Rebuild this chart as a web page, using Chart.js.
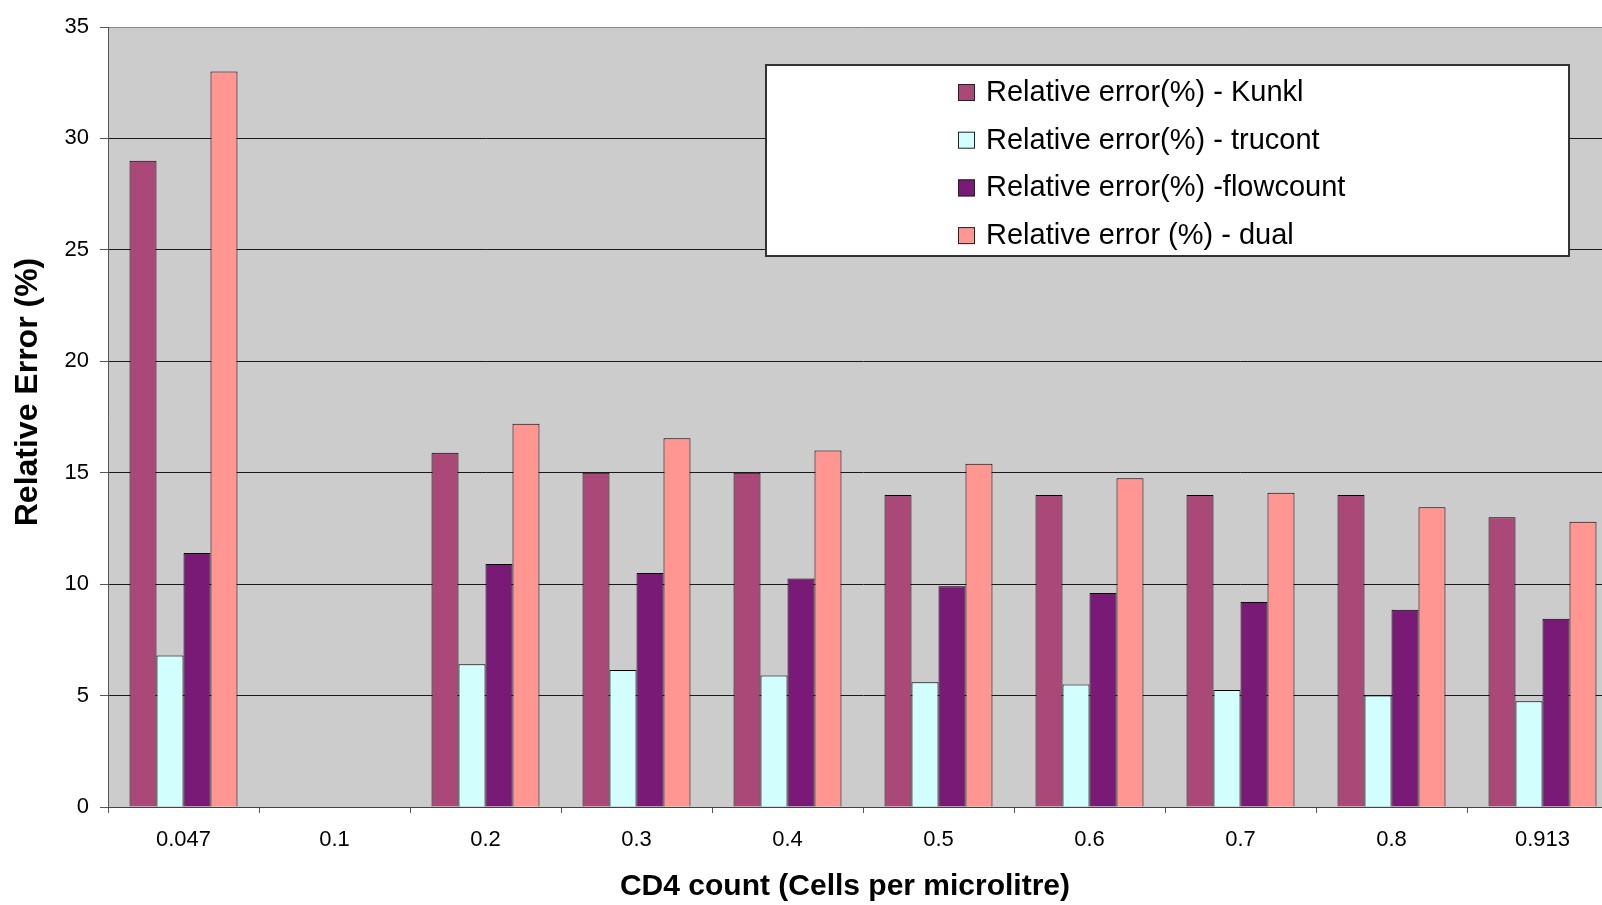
<!DOCTYPE html>
<html>
<head>
<meta charset="utf-8">
<title>Relative error by CD4 count</title>
<script src="https://cdn.jsdelivr.net/npm/chart.js@4"></script>
<style>
  body { margin: 0; background: #ffffff; overflow: hidden; }
</style>
</head>
<body>
<canvas id="myChart" width="1640" height="905"></canvas>
<script>
    const labels = ['0.047', '0.1', '0.2', '0.3', '0.4', '0.5', '0.6', '0.7', '0.8', '0.913'];

    const kunklValues     = [29,   null, 15.9, 15,   15,    14,   14,   14,   14,   13];
    const trucontValues   = [6.8,  null, 6.4,  6.15, 5.9,   5.6,  5.5,  5.25, 5.0,  4.75];
    const flowcountValues = [11.4, null, 10.9, 10.5, 10.25, 9.9,  9.6,  9.2,  8.85, 8.45];
    const dualValues      = [33,   null, 17.2, 16.55, 16.0, 15.4, 14.75, 14.1, 13.45, 12.8];

    const yTicks = [0, 5, 10, 15, 20, 25, 30, 35];

    const xTitle = 'CD4 count (Cells per microlitre)';
    const yTitle = 'Relative Error (%)';

    const CHART_COLORS = {
      plum: '#AA4977',
      paleCyan: '#D2FEFE',
      purple: '#7A1A77',
      salmon: '#FF9692'
    };

    const FONT = '"Liberation Sans", Arial, sans-serif';

    const data = {
      labels: labels,
      datasets: [
        { label: 'Relative error(%) - Kunkl', data: kunklValues, backgroundColor: CHART_COLORS.plum },
        { label: 'Relative error(%) - trucont', data: trucontValues, backgroundColor: CHART_COLORS.paleCyan },
        { label: 'Relative error(%) -flowcount', data: flowcountValues, backgroundColor: CHART_COLORS.purple },
        { label: 'Relative error (%) - dual', data: dualValues, backgroundColor: CHART_COLORS.salmon }
      ]
    };
    data.datasets.forEach(function (ds) {
      ds.borderColor = '#000000';
      ds.borderWidth = 1;
      ds.categoryPercentage = 0.715;
      ds.barPercentage = 1.0;
    });

    // grey plot area like the old excel chart
    const plotBackground = {
      id: 'plotBackground',
      beforeDraw(chart) {
        const a = chart.chartArea;
        const ctx = chart.ctx;
        ctx.save();
        ctx.fillStyle = '#cccccc';
        ctx.fillRect(a.left, a.top, a.right - a.left, a.bottom - a.top);
        ctx.restore();
      }
    };

    // axis titles - excel put them a bit off the plot centre
    const axisTitles = {
      id: 'axisTitles',
      afterDraw(chart) {
        const ctx = chart.ctx;
        ctx.save();
        ctx.fillStyle = '#000000';
        ctx.textAlign = 'center';
        ctx.textBaseline = 'middle';
        ctx.font = 'bold 30px ' + FONT;
        ctx.fillText(xTitle, 845, 887);
        ctx.translate(28, 392);
        ctx.rotate(-Math.PI / 2);
        ctx.font = 'bold 32px ' + FONT;
        ctx.fillText(yTitle, 0, 0);
        ctx.restore();
      }
    };

    // boxed legend sitting inside the plot area
    const boxLegend = {
      id: 'boxLegend',
      afterDraw(chart) {
        const ctx = chart.ctx;
        const x0 = 766, y0 = 65, w = 803, h = 191;
        ctx.save();
        ctx.fillStyle = '#ffffff';
        ctx.fillRect(x0, y0, w, h);
        ctx.lineWidth = 2;
        ctx.strokeStyle = '#333333';
        ctx.strokeRect(x0, y0, w, h);
        ctx.font = '29px ' + FONT;
        ctx.textBaseline = 'middle';
        chart.data.datasets.forEach(function (ds, i) {
          const cy = 92 + i * 47.7;
          ctx.fillStyle = ds.backgroundColor;
          ctx.fillRect(958, cy - 8, 17, 17);
          ctx.lineWidth = 1;
          ctx.strokeStyle = '#222222';
          ctx.strokeRect(958.5, cy - 7.5, 16, 16);
          ctx.fillStyle = '#000000';
          ctx.fillText(ds.label, 986, cy + 1);
        });
        ctx.restore();
      }
    };

    const config = {
      type: 'bar',
      data: data,
      options: {
        responsive: false,
        animation: false,
        layout: { padding: { top: 27, right: 22, bottom: 0, left: 0 } },
        plugins: {
          legend: { display: false },
          tooltip: { enabled: false }
        },
        scales: {
          x: {
            grid: {
              drawOnChartArea: false,
              offset: true,
              tickLength: 6,
              tickColor: '#555555'
            },
            border: { color: '#444444', width: 1 },
            ticks: {
              color: '#000000',
              padding: 14,
              font: { family: FONT, size: 22 }
            },
            afterFit(scale) { scale.height = 98; }
          },
          y: {
            min: 0,
            max: 35,
            afterBuildTicks(scale) {
              scale.ticks = yTicks.map(function (v) { return { value: v }; });
            },
            grid: {
              color: function (c) { return c.tick && c.tick.value === 35 ? '#888888' : '#1a1a1a'; },
              lineWidth: 1,
              tickLength: 8,
              tickColor: '#555555'
            },
            border: { color: '#555555', width: 1 },
            ticks: {
              color: '#000000',
              padding: 11,
              font: { family: FONT, size: 22 }
            },
            afterFit(scale) { scale.width = 108; }
          }
        }
      },
      plugins: [plotBackground, axisTitles, boxLegend]
    };

function drawChart() {
    const myChart = new Chart(document.getElementById('myChart'), config);
}

drawChart();
</script>
</body>
</html>
